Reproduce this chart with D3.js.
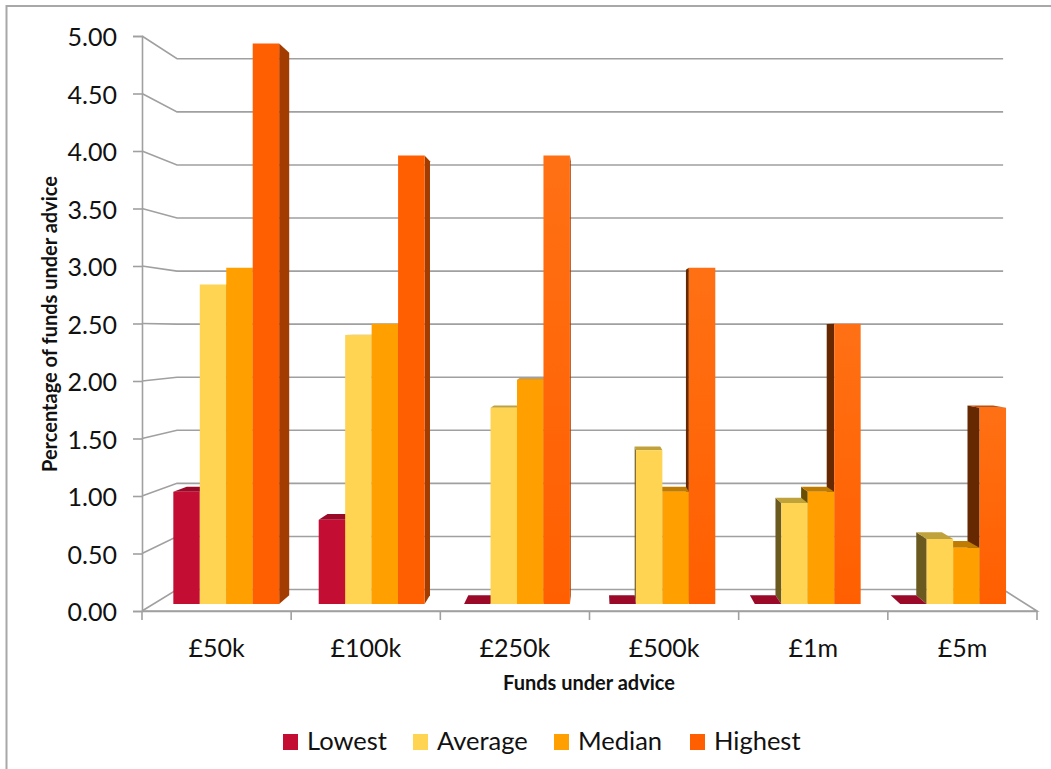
<!DOCTYPE html>
<html>
<head>
<meta charset="utf-8">
<script src="https://cdn.jsdelivr.net/npm/d3@7"></script>
<style>
  html, body { margin: 0; padding: 0; background: #fff; }
  svg { display: block; }
  text { font-family: Lato, "Open Sans", sans-serif; fill: #111; }
</style>
</head>
<body>
<svg id="chart" width="1051" height="769"></svg>
<script>
const categories = ["£50k", "£100k", "£250k", "£500k", "£1m", "£5m"];
const seriesNames = ["Lowest", "Average", "Median", "Highest"];
const lowest  = [1.00, 0.75, 0, 0, 0, 0];
const average = [2.85, 2.40, 1.75, 1.37, 0.90, 0.58];
const median  = [3.00, 2.50, 2.00, 1.00, 1.00, 0.50];
const highest = [5.00, 4.00, 4.00, 3.00, 2.50, 1.75];
const seriesValues = [lowest, average, median, highest];
const yTicks = [0, 0.5, 1, 1.5, 2, 2.5, 3, 3.5, 4, 4.5, 5];
// Tallest bars in these groups catch the light on their upper part.
const litCategories = ["£250k", "£500k", "£1m", "£5m"];

const faceColors = {
  Lowest:  { front: "#c40d33", top: "#9a0a28", right: "#7a0820", left: "#6a0719" },
  Average: { front: "#ffd452", top: "#bfa23c", right: "#a68c33", left: "#6b5a20" },
  Median:  { front: "#ffa000", top: "#c07c00", right: "#a06800", left: "#6b4e00" },
  Highest: { front: "#ff5f00", top: "#c94c00", right: "#a33c00", left: "#662800" }
};
const axisColor = "#a0a0a0";

const svg = d3.select("#chart");

const lit = svg.append("defs").append("linearGradient")
  .attr("id", "highestLit").attr("x1", 0).attr("y1", 0).attr("x2", 0).attr("y2", 1);
lit.append("stop").attr("offset", 0).attr("stop-color", "#ff7014");
lit.append("stop").attr("offset", 1).attr("stop-color", "#ff5f00");

// Outer frame: only the top and left edges are drawn.
svg.append("path").attr("d", d3.line()([[1051, 6], [6.5, 6], [6.5, 769]]))
  .attr("fill", "none").attr("stroke", "#a8a8a8").attr("stroke-width", 2);

// Front plane of the 3-D box, in page pixels.
const x = d3.scaleBand().domain(categories).range([142, 1037]);
const inner = d3.scaleBand().domain(seriesNames)
  .range([x.bandwidth() * 0.136, x.bandwidth() * 0.864]);
const y = d3.scaleLinear().domain([0, 5]).range([611, 36]);

// Perspective: points recede toward a vanishing point as depth goes 0 -> 1.
const vanish = { x: 597, y: 332 };
const shrink = 0.077;
const barFrontDepth = 0.33;
const barBackDepth = 0.73;
const project = (px, py, depth) => {
  const s = 1 - shrink * depth;
  return [vanish.x + (px - vanish.x) * s, vanish.y + (py - vanish.y) * s];
};
const poly = d3.line();

// Walls: gridlines run along the left wall and across the back.
const walls = svg.append("g").attr("fill", "none").attr("stroke", axisColor).attr("stroke-width", 1.6);
yTicks.forEach(t => {
  const front = project(142, y(t), 0);
  const corner = project(142, y(t), 1);
  const far = project(1037, y(t), 1);
  walls.append("path").attr("d", poly([front, corner, far]));
});
walls.append("path").attr("d", poly([project(142, y(0), 0), project(1037, y(0), 0), project(1037, y(0), 1)]));

// Bars, painted from the outside in so nearer faces cover farther ones.
const bars = [];
seriesNames.forEach((name, si) => {
  seriesValues[si].forEach((value, ci) => {
    const x0 = x(categories[ci]) + inner(name);
    const isLit = name === "Highest" && litCategories.includes(categories[ci]);
    bars.push({ name, value, x0, x1: x0 + inner.bandwidth(), isLit });
  });
});
bars.sort((a, b) =>
  Math.abs((b.x0 + b.x1) / 2 - vanish.x) - Math.abs((a.x0 + a.x1) / 2 - vanish.x));

const barLayer = svg.append("g");
bars.forEach(b => {
  const c = faceColors[b.name];
  const yTop = y(b.value), yBase = y(0);
  const face = (pts, fill) => barLayer.append("path")
    .attr("d", poly(pts) + "Z").attr("fill", fill);
  const f = barFrontDepth, k = barBackDepth;
  if (b.x1 < vanish.x) {
    face([project(b.x1, yTop, f), project(b.x1, yTop, k), project(b.x1, yBase, k), project(b.x1, yBase, f)], c.right);
  }
  if (b.x0 > vanish.x) {
    face([project(b.x0, yTop, f), project(b.x0, yTop, k), project(b.x0, yBase, k), project(b.x0, yBase, f)], c.left);
  }
  if (yTop > vanish.y) {
    face([project(b.x0, yTop, f), project(b.x0, yTop, k), project(b.x1, yTop, k), project(b.x1, yTop, f)], c.top);
  }
  face([project(b.x0, yTop, f), project(b.x1, yTop, f), project(b.x1, yBase, f), project(b.x0, yBase, f)],
    b.isLit ? "url(#highestLit)" : c.front);
});

// Value axis on the front-left edge.
const yAxis = d3.axisLeft(y).tickValues(yTicks).tickFormat(d3.format(".2f")).tickSize(9).tickPadding(16);
const yG = svg.append("g").attr("transform", "translate(142,0)").call(yAxis);
yG.selectAll("text").attr("transform", "translate(0,1.5)");
// Category axis along the front floor edge.
const xAxis = d3.axisBottom(x).tickSize(0).tickPadding(28.5);
const xG = svg.append("g").attr("transform", "translate(0,611)").call(xAxis);
xG.selectAll(".tickmark").data(d3.range(categories.length + 1)).enter().append("line")
  .attr("class", "tickmark")
  .attr("x1", i => 142 + i * x.step()).attr("x2", i => 142 + i * x.step())
  .attr("y1", 0).attr("y2", 9)
  .attr("stroke", axisColor).attr("stroke-width", 1.6);
[yG, xG].forEach(g => {
  g.selectAll(".domain").attr("stroke", axisColor).attr("stroke-width", 1.6);
  g.selectAll(".tick line").attr("stroke", axisColor).attr("stroke-width", 1.6);
  g.selectAll("text").attr("font-size", 25).attr("font-family", "Lato").attr("fill", "#111");
});

// Axis titles.
svg.append("text").attr("x", 589).attr("y", 690).attr("text-anchor", "middle")
  .attr("font-size", 20).attr("font-weight", 700).text("Funds under advice");
svg.append("text").attr("transform", "translate(57,324) rotate(-90)").attr("text-anchor", "middle")
  .attr("font-size", 20).attr("font-weight", 700).text("Percentage of funds under advice");

// Legend row beneath the chart.
const legendX = d3.scaleOrdinal().domain(seriesNames).range([283, 413, 554, 690]);
const legend = svg.append("g").selectAll("g").data(seriesNames).join("g")
  .attr("transform", d => `translate(${legendX(d)},734)`);
legend.append("rect").attr("width", 15).attr("height", 16).attr("fill", d => faceColors[d].front);
legend.append("text").attr("x", 24).attr("y", 16).attr("font-size", 25.5).text(d => d);
</script>
</body>
</html>
